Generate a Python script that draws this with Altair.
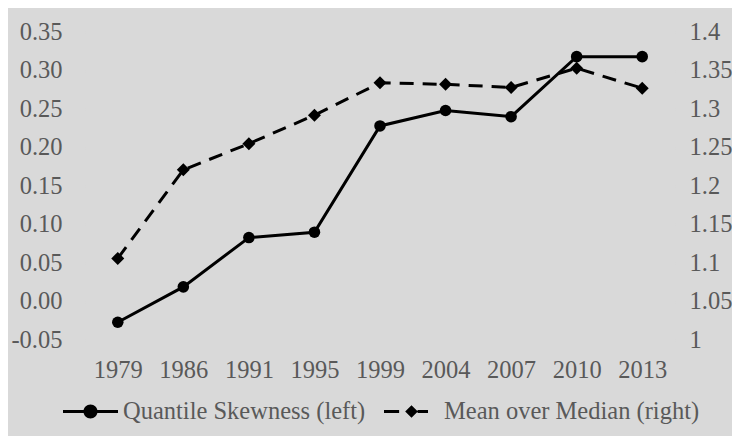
import altair as alt
import pandas as pd

years = ["1979", "1986", "1991", "1995", "1999", "2004", "2007", "2010", "2013"]
quantile_skewness = [-0.027, 0.019, 0.083, 0.090, 0.228, 0.248, 0.240, 0.318, 0.318]
mean_over_median = [1.106, 1.221, 1.255, 1.292, 1.334, 1.332, 1.328, 1.353, 1.327]
series_names = ["Quantile Skewness (left)", "Mean over Median (right)"]
left_ticks = [-0.05, 0.0, 0.05, 0.10, 0.15, 0.20, 0.25, 0.30, 0.35]
right_ticks = [1.0, 1.05, 1.1, 1.15, 1.2, 1.25, 1.3, 1.35, 1.4]

df = pd.DataFrame({"year": years, "qs": quantile_skewness, "mm": mean_over_median})
legend_df = pd.DataFrame({"series": series_names})

FONT = "Liberation Serif, Times New Roman, serif"
GRAY = "#595959"
FS = 24.5

x_enc = alt.X(
    "year:N", sort=years,
    scale=alt.Scale(type="point", padding=0.5),
    axis=alt.Axis(title=None, labelAngle=0, ticks=False, domain=False, grid=False,
                  labelPadding=18, labelFontSize=FS, labelFont=FONT, labelColor=GRAY),
)

y_left = alt.Y(
    "qs:Q",
    scale=alt.Scale(domain=[-0.05, 0.35], nice=False, zero=False),
    axis=alt.Axis(title=None, values=left_ticks, format=".2f",
                  labelExpr="replace(datum.label, '\u2212', '-')",
                  ticks=False, domain=False, grid=True, gridColor="#d9d9d9", gridWidth=1.3,
                  labelPadding=23, labelFontSize=FS, labelFont=FONT, labelColor=GRAY),
)

y_right = alt.Y(
    "mm:Q",
    scale=alt.Scale(domain=[1.0, 1.4], nice=False, zero=False),
    axis=alt.Axis(title=None, orient="right", values=right_ticks, format="~g",
                  ticks=False, domain=False, grid=False,
                  labelPadding=14, labelFontSize=FS, labelFont=FONT, labelColor=GRAY),
)

left_line = alt.Chart(df).mark_line(color="black", strokeWidth=3).encode(x=x_enc, y=y_left)
left_pts = alt.Chart(df).mark_point(filled=True, color="black", shape="circle", size=133, opacity=1).encode(x=x_enc, y=y_left)
left = alt.layer(left_line, left_pts)

right_line = alt.Chart(df).mark_line(color="black", strokeWidth=3, strokeDash=[14, 9]).encode(x=x_enc, y=y_right)
right_pts = alt.Chart(df).mark_point(filled=True, color="black", shape="diamond", size=169, opacity=1).encode(x=x_enc, y=y_right)
right = alt.layer(right_line, right_pts)

# legend glyphs: filled shapes only (thin rectangles for line pieces)
w = 0.055
path_q = (f"M-1,{-w}L-0.25,{-w}L-0.25,{w}L-1,{w}Z"
          f"M0.25,{-w}L1,{-w}L1,{w}L0.25,{w}Z"
          "M-0.255,0A0.255,0.255 0 1,1 0.255,0A0.255,0.255 0 1,1 -0.255,0Z")
path_m = (f"M-1,{-w}L-0.45,{-w}L-0.45,{w}L-1,{w}Z"
          f"M0.22,{-w}L0.6,{-w}L0.6,{w}L0.22,{w}Z"
          "M-0.23,0L0,-0.23L0.23,0L0,0.23Z")

legend_layer = alt.Chart(legend_df).mark_point(
    filled=True, color="black", opacity=1
).encode(
    shape=alt.Shape(
        "series:N",
        scale=alt.Scale(domain=series_names, range=[path_q, path_m]),
        legend=alt.Legend(title=None, orient="none", direction="horizontal",
                          legendX=-22, legendY=352,
                          symbolSize=3025, symbolStrokeWidth=0,
                          symbolFillColor="black",
                          labelFont=FONT, labelFontSize=FS, labelColor=GRAY,
                          labelLimit=500, labelOffset=5, columnPadding=18),
    )
).transform_filter("false")

chart = alt.layer(left, right, legend_layer).resolve_scale(
    y="independent"
).properties(
    width=590, height=308,
    autosize=alt.AutoSizeParams(type="none"),
    padding={"left": 77, "top": 24, "right": 57, "bottom": 96},
    background="#d9d9d9",
).configure_view(
    fill="white", strokeWidth=0
)

chart.save("out.html", embed_options={"renderer": "svg", "actions": False})
